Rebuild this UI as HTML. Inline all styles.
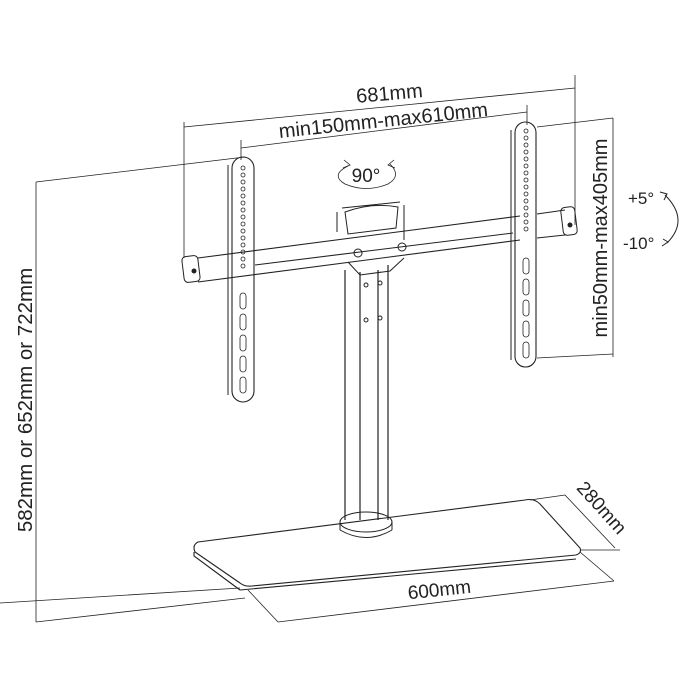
<!DOCTYPE html>
<html><head><style>
html,body{margin:0;padding:0;background:#fff;width:700px;height:700px;overflow:hidden}
svg{display:block}
text{font-family:"Liberation Sans",sans-serif;fill:#222}
</style></head><body>
<svg width="700" height="700" viewBox="0 0 700 700" stroke="#222" fill="none" stroke-width="1">
<path d="M36 182 L245 157 M36 182 L36 622 M36 622 L245 598" stroke-width="0.8"/>
<text x="0" y="0" font-size="20.5" transform="translate(32,400) rotate(-90)" text-anchor="middle" stroke="none">582mm or 652mm or 722mm</text>
<path d="M184 127 L575 88 M184 122 L184 258 M575 75 L575 225" stroke-width="0.8"/>
<text font-size="20" transform="translate(390,100) rotate(-5)" text-anchor="middle" stroke="none">681mm</text>
<path d="M241 148 L527 112 M241 140 L241 160 M527 105 L527 125" stroke-width="0.8"/>
<text font-size="20" transform="translate(384,127) rotate(-6)" text-anchor="middle" stroke="none">min150mm-max610mm</text>
<path d="M348 166 Q330 175 345 184 Q366 193 388 184 Q402 176 390 164" stroke-width="0.8"/>
<path d="M344 160 L350 165 L343 168 M394 160 L388 165 L395 168" stroke-width="0.8"/>
<text x="366" y="182" font-size="19" text-anchor="middle" stroke="none" fill="#222">90°</text>
<path d="M537 127 L613 118 M613 118 L613 357 M537 358 L613 354" stroke-width="0.8"/>
<text font-size="20" transform="translate(607,238) rotate(-90)" text-anchor="middle" stroke="none">min50mm-max405mm</text>
<text x="628" y="204" font-size="17" stroke="none">+5°</text>
<text x="623" y="249" font-size="17" stroke="none">-10°</text>
<path d="M665 195 Q690 220 667 243" stroke-width="1"/>
<path d="M660 192 L667 194 L664 200 M662 246 L668 242 L663 239" stroke-width="1"/>
<path d="M198 258 L520 216 M198 282 L520 240 M255 265 L513 233" stroke-width="1.1"/>
<path d="M537 214 L565 210 M537 238 L565 235" />
<rect x="183" y="256" width="16" height="26" rx="4" transform="rotate(-7 191 269)"/>
<rect x="562" y="207" width="14" height="28" rx="4" transform="rotate(-7 569 221)"/>
<circle cx="194" cy="271" r="2" fill="#222"/><circle cx="570" cy="225" r="2" fill="#222"/>
<path d="M337 212 L337 232 M404 205 L404 240 M342 208 L400 202 M345 212 Q372 202 398 207 L396 228 L348 234 Z"/>
<circle cx="358" cy="253" r="4"/><circle cx="402" cy="247" r="4"/>
<path d="M348 262 L360 275 L390 271 L404 258"/>
<path d="M345 270 L345 520 M388 265 L388 520 M360 272 L360 520 M378 270 L378 520" stroke-width="1.2"/>
<circle cx="366" cy="285" r="2"/><circle cx="380" cy="283" r="2"/><circle cx="366" cy="320" r="2"/><circle cx="380" cy="318" r="2"/>
<ellipse cx="366" cy="522" rx="26" ry="10"/>
<path d="M340 522 L340 530 M392 522 L392 530"/>
<path d="M340 530 Q366 545 392 530"/>
<path d="M198 542 L525 500 Q534 498 540 504 L580 548 Q582 553 576 555 L252 586 Q245 587 240 583 L195 552 Q192 545 198 542 Z" stroke-width="1.1"/>
<path d="M240 590 L576 559 M194 552 L194 556 L240 590" stroke-width="1.1"/>
<path d="M0 603 L240 588 M248 590 L278 622 M580 552 L614 581 M278 622 L614 581 M565 495 L615 548 M530 500 L565 495 M580 550 L620 550" stroke-width="0.8"/>
<text font-size="19" transform="translate(440,596) rotate(-6)" text-anchor="middle" stroke="none">600mm</text>
<text font-size="19" transform="translate(597,512) rotate(48)" text-anchor="middle" stroke="none">280mm</text>
<rect x="232" y="157" width="22" height="245" rx="11" stroke-width="1.1"/>
<path d="M228 165 L228 395" />
<g fill="none" stroke-width="0.8">
<circle cx="243" cy="168" r="2"/><circle cx="243" cy="175" r="2"/><circle cx="243" cy="182" r="2"/><circle cx="243" cy="189" r="2"/><circle cx="243" cy="196" r="2"/><circle cx="243" cy="203" r="2"/><circle cx="243" cy="210" r="2"/><circle cx="243" cy="217" r="2"/><circle cx="243" cy="224" r="2"/><circle cx="243" cy="231" r="2"/><circle cx="243" cy="238" r="2"/><circle cx="243" cy="245" r="2"/><circle cx="243" cy="252" r="2"/><circle cx="243" cy="259" r="2"/><circle cx="243" cy="266" r="2"/>
<rect x="240" y="293" width="6" height="16" rx="3"/><rect x="240" y="314" width="6" height="16" rx="3"/><rect x="240" y="335" width="6" height="16" rx="3"/><rect x="240" y="356" width="6" height="16" rx="3"/><rect x="240" y="377" width="6" height="16" rx="3"/>
</g>
<rect x="515" y="122" width="21" height="245" rx="10.5" stroke-width="1.1"/>
<path d="M511 130 L511 360"/>
<g fill="none" stroke-width="0.8">
<circle cx="526" cy="131" r="2"/><circle cx="526" cy="138" r="2"/><circle cx="526" cy="145" r="2"/><circle cx="526" cy="152" r="2"/><circle cx="526" cy="159" r="2"/><circle cx="526" cy="166" r="2"/><circle cx="526" cy="173" r="2"/><circle cx="526" cy="180" r="2"/><circle cx="526" cy="187" r="2"/><circle cx="526" cy="194" r="2"/><circle cx="526" cy="201" r="2"/><circle cx="526" cy="208" r="2"/><circle cx="526" cy="215" r="2"/><circle cx="526" cy="222" r="2"/><circle cx="526" cy="229" r="2"/>
<rect x="523" y="258" width="6" height="16" rx="3"/><rect x="523" y="279" width="6" height="16" rx="3"/><rect x="523" y="300" width="6" height="16" rx="3"/><rect x="523" y="321" width="6" height="16" rx="3"/><rect x="523" y="342" width="6" height="16" rx="3"/>
</g>
</svg>
</body></html>
